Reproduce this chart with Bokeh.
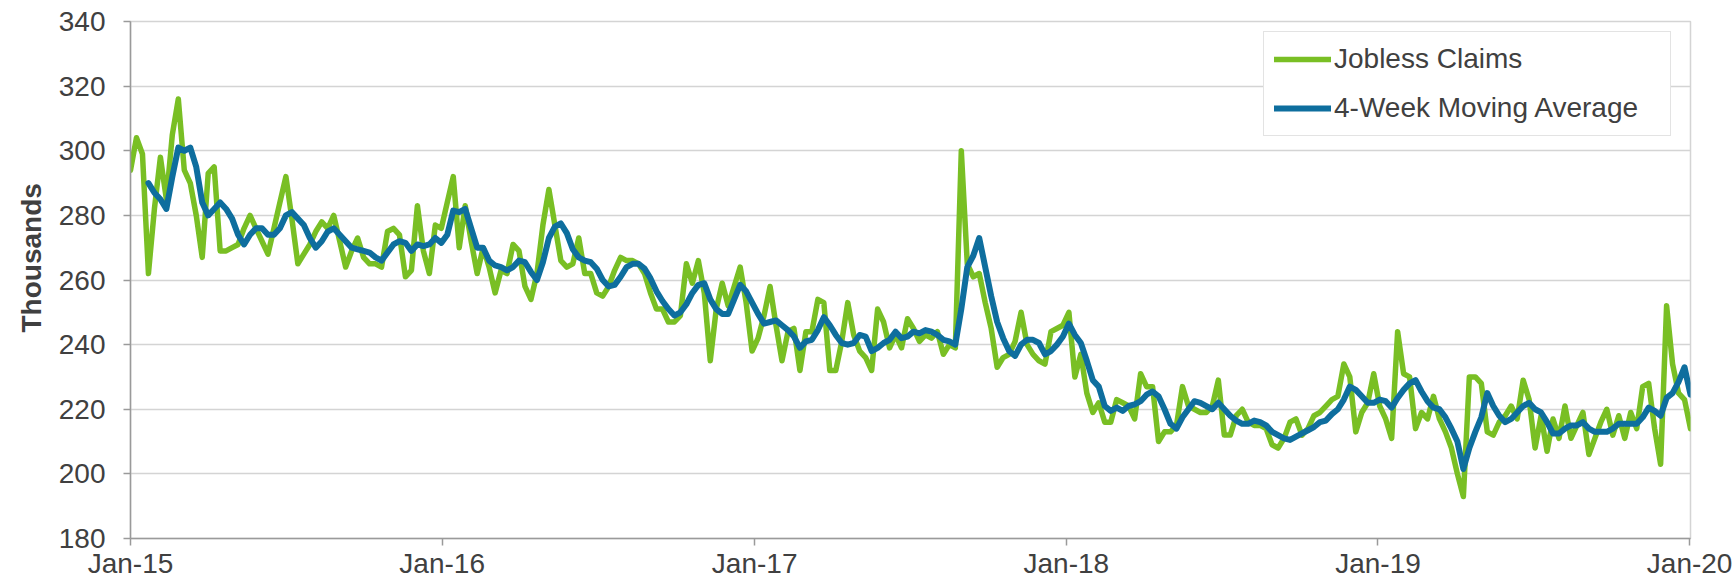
import pandas as pd
from bokeh.plotting import figure
from bokeh.models import (Range1d, FixedTicker, Legend, LegendItem, Title,
                          ColumnDataSource)
from bokeh.embed import file_html
from bokeh.resources import INLINE

# ---------------- data (thousands, weekly, week ending Sat) ----------------
claims_2015 = [294, 304, 299, 262, 282, 298, 285, 305, 316, 294,
               290, 280, 267, 293, 295, 269, 269, 270, 271, 276,
               280, 276, 272, 268, 276, 284, 292, 279, 265, 268,
               271, 275, 278, 276, 280, 272, 264, 269, 273, 267,
               265, 265, 264, 275, 276, 274, 261, 263, 283, 269,
               262, 277]
claims_2016 = [276, 284, 292, 270, 283, 272, 262, 270, 264, 256,
               263, 262, 271, 269, 258, 254, 262, 277, 288, 277,
               266, 264, 265, 273, 262, 262, 256, 255, 258, 263,
               267, 266, 266, 265, 262, 256, 251, 251, 247, 247,
               249, 265, 259, 266, 256, 235, 251, 259, 252, 258,
               264, 253, 238]
claims_2017 = [242, 249, 258, 246, 235, 244, 245, 232, 244, 244,
               254, 253, 232, 232, 241, 253, 243, 238, 236, 232,
               251, 247, 239, 243, 239, 248, 245, 241, 243, 242,
               244, 237, 240, 239, 300, 265, 261, 262, 253, 245,
               233, 236, 237, 241, 250, 240, 237, 235, 234, 244,
               245, 246]
claims_2018 = [250, 230, 237, 225, 219, 222, 216, 216, 223, 222,
               221, 217, 231, 227, 227, 210, 213, 213, 215, 227,
               221, 220, 219, 219, 221, 229, 212, 212, 218, 220,
               216, 215, 215, 214, 209, 208, 211, 216, 217, 212,
               214, 218, 219, 221, 223, 224, 234, 230, 213, 219,
               222, 231]
claims_2019 = [221, 217, 211, 244, 231, 230, 214, 219, 217, 224,
               217, 213, 208, 200, 193, 230, 230, 228, 213, 212,
               216, 218, 221, 217, 229, 223, 208, 218, 207, 217,
               211, 221, 211, 215, 219, 206, 211, 216, 220, 212,
               218, 211, 219, 214, 227, 228, 214, 203, 252, 234,
               225, 223]
claims_2020 = [214]

ma_2015 = [290, 287, 285, 282, 292, 301, 300, 301, 295, 284,
           280, 282, 284, 282, 279, 274, 271, 274, 276, 276,
           274, 274, 276, 280, 281, 279, 277, 273, 270, 272,
           275, 276, 274, 272, 270, 269.5, 269, 268.5, 267, 266,
           268.5, 271, 272, 271.5, 269, 271, 270.5, 271, 273]
ma_2016 = [271.5, 274, 281.5, 281, 282, 276, 270, 270, 266, 264.5,
           264, 263, 264, 266, 265.5, 262.5, 260, 265.5, 273, 276.5,
           277.5, 274.5, 269.5, 267, 266, 265.5, 263.5, 260, 258, 258.5,
           261, 264, 265, 265, 263.5, 260.5, 256.5, 253.5, 251, 249,
           250, 252.5, 256, 258.5, 259, 254, 251, 249.5, 249.5, 254,
           258.5, 256.5, 253]
ma_2017 = [249.5, 246.5, 247, 247.5, 246, 244.5, 242.5, 239, 241, 241.5,
           244.5, 248.5, 246, 243, 240.5, 240, 240.5, 243, 242.5, 238,
           239, 240.5, 241.5, 244, 242, 242.5, 244, 243.5, 244.5, 244,
           243, 241.5, 241, 240, 251, 264, 267.5, 273, 264, 255,
           247, 242, 238, 236.5, 240, 241.5, 241.5, 240.5, 237, 238,
           240, 242.5]
ma_2018 = [246.5, 243, 240.5, 235, 229, 227, 221, 219.5, 220.5, 219.5,
           221, 221.5, 222.5, 224.5, 225.5, 224, 220, 215.5, 214, 217.5,
           220, 222.5, 222, 221, 220, 222, 220, 218, 216.5, 215.5,
           215.5, 216.5, 216, 215, 213, 212, 211, 210.5, 211.5, 212.5,
           213.5, 214.5, 216, 216.5, 218.5, 220, 223, 227, 226, 224,
           222, 222]
ma_2019 = [223, 222.5, 220.5, 223.5, 226, 228, 229, 225.5, 222.5, 220.5,
           220, 217.5, 214, 210, 201.5, 208, 213, 217.5, 225, 221,
           218, 216, 217, 219, 221, 222, 220, 219, 216, 212.5,
           212.5, 214, 215, 215, 216, 214, 213, 213, 213, 214,
           215.5, 215.5, 215.5, 215.5, 217.5, 220.5, 219.5, 218, 223.5, 225,
           228.5, 233]
ma_2020 = [224.5]

x_tick_labels = ["Jan-15", "Jan-16", "Jan-17", "Jan-18", "Jan-19", "Jan-20"]
x_tick_dates = ["2015-01-03", "2016-01-03", "2017-01-03", "2018-01-03",
                "2019-01-03", "2020-01-03"]
y_ticks = [180, 200, 220, 240, 260, 280, 300, 320, 340]
series_names = ["Jobless Claims", "4-Week Moving Average"]
y_title = "Thousands"
first_week = "2015-01-03"

claims = claims_2015 + claims_2016 + claims_2017 + claims_2018 + claims_2019 + claims_2020
ma = ma_2015 + ma_2016 + ma_2017 + ma_2018 + ma_2019 + ma_2020

weeks = pd.date_range(first_week, periods=len(claims), freq="7D")
ma_weeks = weeks[len(claims) - len(ma):]

GREEN = "#79BF24"
BLUE = "#0E6E9E"
TEXT = "#404040"
AXIS = "#9a9a9a"
GRID = "#d4d4d4"
FONT = "Liberation Sans"
FS = "28px"


def ms(ts):
    return pd.Timestamp(ts).value / 1e6


src_c = ColumnDataSource(dict(date=weeks, val=claims))
src_m = ColumnDataSource(dict(date=ma_weeks, val=ma))

W, H = 1735, 584
p = figure(width=W, height=H, x_axis_type="datetime",
           x_range=Range1d(weeks[0], weeks[-1]), y_range=Range1d(180, 340),
           output_backend="svg", toolbar_location=None,
           min_border_left=130, min_border_right=45, min_border_top=21,
           min_border_bottom=46, background_fill_color="white",
           border_fill_color="white")

r1 = p.line("date", "val", source=src_c, line_color=GREEN, line_width=5.5,
            line_join="round", line_cap="round")
r2 = p.line("date", "val", source=src_m, line_color=BLUE, line_width=6,
            line_join="round", line_cap="round")

# axes
xt = [ms(d) for d in x_tick_dates]
p.xaxis.ticker = FixedTicker(ticks=xt)
p.xaxis.major_label_overrides = {t: lab for t, lab in zip(xt, x_tick_labels)}
p.yaxis.ticker = FixedTicker(ticks=y_ticks)

for ax in (p.xaxis[0], p.yaxis[0]):
    ax.axis_line_color = AXIS
    ax.axis_line_width = 1.5
    ax.major_tick_line_color = AXIS
    ax.major_tick_line_width = 1.5
    ax.major_tick_in = 0
    ax.major_tick_out = 7
    ax.minor_tick_line_color = None
    ax.major_label_text_font = FONT
    ax.major_label_text_font_size = FS
    ax.major_label_text_color = TEXT

p.xaxis.major_label_standoff = 2
p.yaxis.major_label_standoff = 18

# y-axis title as a left-side title, sitting slightly above the frame's middle
p.add_layout(Title(text=y_title, align="left", offset=206, standoff=18,
                   text_font=FONT, text_font_size=FS, text_font_style="bold",
                   text_color=TEXT), "left")

p.xgrid.visible = False
p.ygrid.grid_line_color = GRID
p.ygrid.grid_line_width = 1.5
p.outline_line_color = GRID
p.outline_line_width = 1.5

legend = Legend(items=[LegendItem(label=series_names[0], renderers=[r1]),
                       LegendItem(label=series_names[1], renderers=[r2])],
                location=(1133, 402), margin=0, padding=10, spacing=15,
                glyph_width=57, glyph_height=34, label_height=34,
                label_width=326, label_standoff=3,
                border_line_color="#c8c8c8", border_line_width=1.5,
                background_fill_color="white", background_fill_alpha=1,
                label_text_font=FONT, label_text_font_size=FS,
                label_text_color=TEXT)
p.add_layout(legend)

open("out.html", "w").write(file_html(p, INLINE))
